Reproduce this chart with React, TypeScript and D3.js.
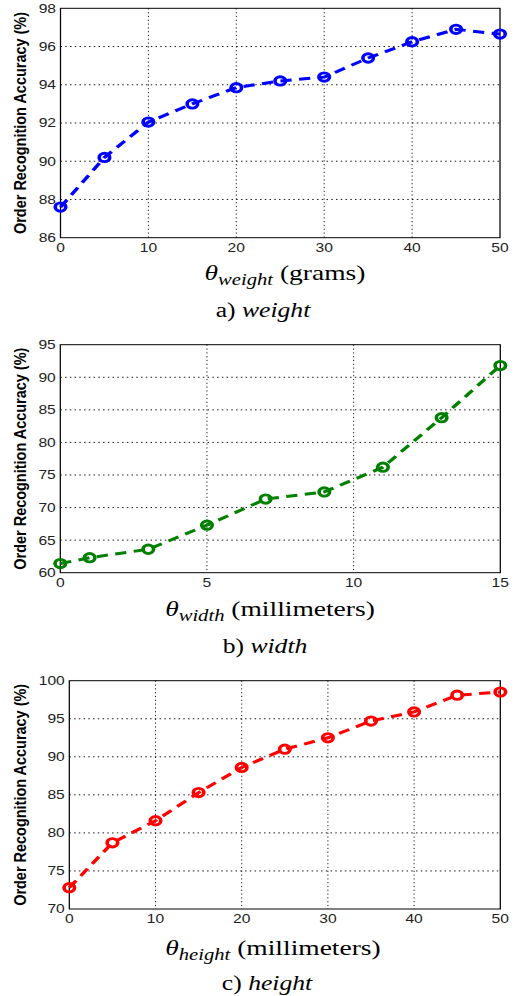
import React from 'react';
import * as d3 from 'd3';

// the source figure is stretched sideways, so everything is drawn in a narrower box and scaled
const S = 1.25;
const W = 514;
const H = 996;

const weightX = [0, 5, 10, 15, 20, 25, 30, 35, 40, 45, 50];
const weightAcc = [87.6, 90.2, 92.05, 93.0, 93.85, 94.2, 94.4, 95.4, 96.25, 96.9, 96.65];
const weightXTicks = [0, 10, 20, 30, 40, 50];
const weightYTicks = [86, 88, 90, 92, 94, 96, 98];

const widthX = [0, 1, 3, 5, 7, 9, 11, 13, 15];
const widthAcc = [61.4, 62.3, 63.6, 67.3, 71.3, 72.4, 76.2, 83.8, 91.8];
const widthXTicks = [0, 5, 10, 15];
const widthYTicks = [60, 65, 70, 75, 80, 85, 90, 95];

const heightX = [0, 5, 10, 15, 20, 25, 30, 35, 40, 45, 50];
const heightAcc = [72.8, 78.7, 81.6, 85.3, 88.6, 91.0, 92.5, 94.7, 95.9, 98.1, 98.5];
const heightXTicks = [0, 10, 20, 30, 40, 50];
const heightYTicks = [70, 75, 80, 85, 90, 95, 100];

const yLabel = 'Order Recognition Accuracy (%)';

const panels = [
  {
    xs: weightX, ys: weightAcc, xTicks: weightXTicks, yTicks: weightYTicks,
    color: '#0000ff', sub: 'weight', unit: ' (grams)', cap: 'a) ', capIt: 'weight',
    box: { left: 60.5, right: 500, top: 8.3, bottom: 237.7 },
    xl: { cx: 285, y: 280 }, cp: { cx: 263, y: 317 },
  },
  {
    xs: widthX, ys: widthAcc, xTicks: widthXTicks, yTicks: widthYTicks,
    color: '#008000', sub: 'width', unit: ' (millimeters)', cap: 'b) ', capIt: 'width',
    box: { left: 60.3, right: 500.3, top: 344.7, bottom: 572.7 },
    xl: { cx: 270, y: 616.5 }, cp: { cx: 265, y: 653 },
  },
  {
    xs: heightX, ys: heightAcc, xTicks: heightXTicks, yTicks: heightYTicks,
    color: '#ff0000', sub: 'height', unit: ' (millimeters)', cap: 'c) ', capIt: 'height',
    box: { left: 69.3, right: 500.3, top: 680.7, bottom: 909 },
    xl: { cx: 273, y: 955 }, cp: { cx: 267, y: 990 },
  },
];

const sans = '"Liberation Sans", Arial, Helvetica, sans-serif';
const serif = '"Liberation Serif", "Times New Roman", Times, serif';

function Panel({ p }) {
  const { box } = p;
  const x = d3.scaleLinear()
    .domain(d3.extent(p.xTicks))
    .range([box.left / S, box.right / S]);
  const y = d3.scaleLinear()
    .domain(d3.extent(p.yTicks))
    .range([box.bottom, box.top]);

  const line = d3.line()
    .x((d) => x(d[0]))
    .y((d) => y(d[1]));
  const pts = p.xs.map((v, i) => [v, p.ys[i]]);

  const x0 = x.range()[0];
  const x1 = x.range()[1];

  return (
    <g>
      {/* grid */}
      {p.yTicks.slice(1, -1).map((t) => (
        <line key={'gy' + t} x1={x0} x2={x1} y1={y(t)} y2={y(t)}
          stroke="#000" strokeWidth={0.8} strokeDasharray="1.2,2.6" />
      ))}
      {p.xTicks.slice(1, -1).map((t) => (
        <line key={'gx' + t} x1={x(t)} x2={x(t)} y1={box.top} y2={box.bottom}
          stroke="#000" strokeWidth={0.8} strokeDasharray="1.2,2.6" />
      ))}
      <rect x={x0} y={box.top} width={x1 - x0} height={box.bottom - box.top}
        fill="none" stroke="#000" strokeWidth={1} />

      {/* tick labels */}
      {p.yTicks.map((t) => (
        <text key={'ty' + t} x={x0 - 4.5 / S} y={y(t)} dy="0.36em" textAnchor="end"
          fontFamily={sans} fontSize={12.5} fill="#222">{t}</text>
      ))}
      {p.xTicks.map((t) => (
        <text key={'tx' + t} x={x(t)} y={box.bottom + 14.5} textAnchor="middle"
          fontFamily={sans} fontSize={12.5} fill="#222">{t}</text>
      ))}

      {/* series */}
      <path d={line(pts)} fill="none" stroke={p.color} strokeWidth={3}
        strokeDasharray="9,6" />
      {pts.map((d, i) => (
        <circle key={'m' + i} cx={x(d[0])} cy={y(d[1])} r={4.2}
          fill="none" stroke={p.color} strokeWidth={2.9} />
      ))}

      {/* labels */}
      <text transform={`translate(${20.5 / S},${(box.top + box.bottom) / 2}) rotate(-90)`}
        textAnchor="middle" dy="0.35em" fontFamily={sans} fontSize={13.5}
        fontWeight="bold" fill="#000" textLength={222} lengthAdjust="spacingAndGlyphs">
        {yLabel}
      </text>
      <text x={p.xl.cx / S} y={p.xl.y} textAnchor="middle" fontFamily={serif}
        fontSize={22} fill="#000">
        <tspan fontStyle="italic">θ</tspan>
        <tspan fontStyle="italic" fontSize={16.5} dy={5}>{p.sub}</tspan>
        <tspan dy={-5}>{p.unit}</tspan>
      </text>
      <text x={p.cp.cx / S} y={p.cp.y} textAnchor="middle" fontFamily={serif}
        fontSize={20.5} fill="#000">
        {p.cap}<tspan fontStyle="italic">{p.capIt}</tspan>
      </text>
    </g>
  );
}

export default function App() {
  return (
    <svg width={W} height={H} viewBox={`0 0 ${W / S} ${H}`} preserveAspectRatio="none"
      style={{ position: 'absolute', left: 0, top: 0, background: '#fff' }}>
      {panels.map((p, i) => <Panel key={i} p={p} />)}
    </svg>
  );
}
